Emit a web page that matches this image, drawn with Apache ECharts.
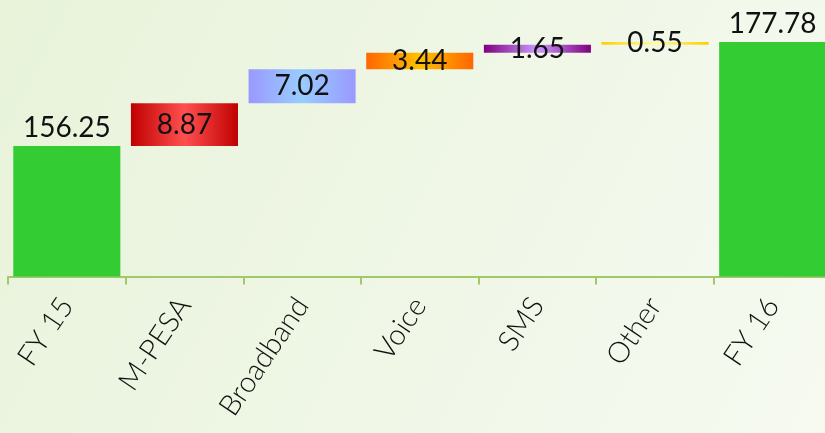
<!DOCTYPE html>
<html>
<head>
<meta charset="utf-8">
<script src="https://cdn.jsdelivr.net/npm/echarts@6/dist/echarts.min.js"></script>
<style>
html,body{margin:0;padding:0;}
#chart{width:825px;height:433px;}
</style>
</head>
<body>
<div id="chart"></div>
<script>
var categories = ['FY 15', 'M-PESA', 'Broadband', 'Voice', 'SMS', 'Other', 'FY 16'];
var values = [156.25, 8.87, 7.02, 3.44, 1.65, 0.55, 177.78];
var isTotal = [true, false, false, false, false, false, true];

// styles (edge colour, centre colour) per bar
var barColours = [
  ['#33cc33', '#33cc33'],
  ['#c00000', '#ff5050'],
  ['#9999ff', '#99ccff'],
  ['#ff6600', '#ffc000'],
  ['#800080', '#cc99ff'],
  ['#ffcc00', '#ffff99'],
  ['#33cc33', '#33cc33']
];

// invisible base of each floating bar, derived from the values
var bases = [];
var running = 0;
for (var i = 0; i < values.length; i++) {
  if (isTotal[i]) { bases.push(0); running = values[i]; }
  else { bases.push(running); running += values[i]; }
}

var FONT = 'Lato';

var visible = values.map(function (v, i) {
  var c = barColours[i];
  return {
    value: v,
    itemStyle: {
      color: {
        type: 'linear', x: 0, y: 0, x2: 1, y2: 0,
        colorStops: [
          { offset: 0, color: c[0] },
          { offset: 0.5, color: c[1] },
          { offset: 1, color: c[0] }
        ]
      }
    },
    label: {
      show: true,
      position: isTotal[i] ? 'top' : 'inside',
      distance: 4,
      formatter: function () { return v.toFixed(2); },
      color: '#111',
      fontFamily: FONT,
      fontWeight: 400,
      fontSize: 28
    }
  };
});

var chart = echarts.init(document.getElementById('chart'));
chart.setOption({
  backgroundColor: {
    type: 'linear', x: 0, y: 0, x2: 1, y2: 1,
    colorStops: [
      { offset: 0, color: '#e8f3da' },
      { offset: 1, color: '#f6faf1' }
    ]
  },
  animation: false,
  grid: { left: 8, top: 0, width: 823.5, bottom: 156.5, containLabel: false, outerBoundsMode: 'none' },
  xAxis: {
    type: 'category',
    data: categories,
    axisLine: { lineStyle: { color: '#a3c86a', width: 2 } },
    axisTick: { show: true, length: 8, lineStyle: { color: '#a3c86a', width: 2 } },
    axisLabel: {
      rotate: 56,
      margin: 24,
      interval: 0,
      color: '#111',
      fontFamily: FONT,
      fontWeight: 300,
      fontSize: 29
    }
  },
  yAxis: {
    type: 'value',
    min: 129.2,
    max: 186.5,
    show: false,
    splitLine: { show: false }
  },
  series: [
    {
      type: 'bar',
      stack: 'w',
      data: bases,
      barWidth: '91%',
      itemStyle: { color: 'transparent' },
      silent: true
    },
    {
      type: 'bar',
      stack: 'w',
      data: visible,
      barWidth: '91%'
    }
  ]
});
</script>
</body>
</html>
